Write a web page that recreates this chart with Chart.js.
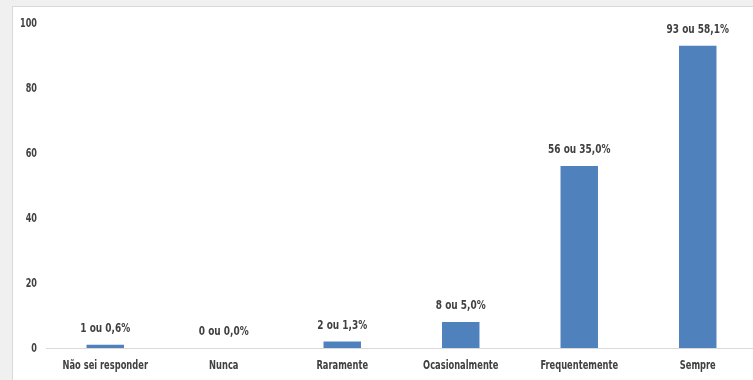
<!DOCTYPE html>
<html>
<head>
<meta charset="utf-8">
<script src="https://cdn.jsdelivr.net/npm/chart.js@4"></script>
<style>
  html, body { margin: 0; padding: 0; background: #f0f0f0; overflow: hidden; width: 753px; height: 380px; }
  #frame { position: absolute; left: 12px; top: 6px; width: 800px; height: 400px; background: #fff; border: 1px solid #d9d9d9; }
  #wrap { position: absolute; left: 0; top: 0; width: 750px; height: 373px; }
</style>
</head>
<body>
<div id="frame">
  <div id="wrap"><canvas id="chart"></canvas></div>
</div>
<script>
const categories = ['Não sei responder', 'Nunca', 'Raramente', 'Ocasionalmente', 'Frequentemente', 'Sempre'];
const counts = [1, 0, 2, 8, 56, 93];
const yTicks = [0, 20, 40, 60, 80, 100];

const FONT = "'Liberation Sans Narrow', 'DejaVu Sans Condensed', sans-serif";
const total = counts.reduce((a, b) => a + b, 0);

// narrow text: the original uses a condensed face, squeeze the one we have
function narrowText(ctx, text, x, y, sx) {
  ctx.save();
  ctx.translate(x, y);
  ctx.scale(sx, 1);
  ctx.fillText(text, 0, 0);
  ctx.restore();
}

const textLayer = {
  id: 'textLayer',
  afterDatasetsDraw(chart) {
    const ctx = chart.ctx;
    const area = chart.chartArea;
    const xs = chart.scales.x, ys = chart.scales.y;
    ctx.save();
    ctx.font = 'bold 12px ' + FONT;
    ctx.fillStyle = '#404040';

    // value labels above bars
    ctx.textAlign = 'center';
    ctx.textBaseline = 'bottom';
    chart.getDatasetMeta(0).data.forEach((bar, i) => {
      const pct = (counts[i] / total * 100).toFixed(1).replace('.', ',');
      narrowText(ctx, counts[i] + ' ou ' + pct + '%', bar.x, bar.y - 10, 0.83);
    });

    // category labels
    ctx.textBaseline = 'middle';
    categories.forEach((c, i) => {
      narrowText(ctx, c, xs.getPixelForValue(i), area.bottom + 18, 0.77);
    });

    // y tick labels
    ctx.textAlign = 'right';
    yTicks.forEach(v => {
      narrowText(ctx, String(v), area.left - 9, ys.getPixelForValue(v) + 1, 0.75);
    });
    ctx.restore();
  }
};

new Chart(document.getElementById('chart'), {
  type: 'bar',
  data: {
    labels: categories,
    datasets: [{
      data: counts,
      backgroundColor: '#4f81bd',
      borderWidth: 0,
      barPercentage: 0.316,
      categoryPercentage: 1
    }]
  },
  options: {
    responsive: true,
    maintainAspectRatio: false,
    animation: false,
    layout: { padding: { top: 16, right: 6, left: 0, bottom: 0 } },
    plugins: { legend: { display: false }, tooltip: { enabled: false } },
    scales: {
      x: {
        grid: { display: false },
        border: { display: true, color: '#d9d9d9', width: 1 },
        ticks: { display: false },
        afterFit(s) { s.height = 32; }
      },
      y: {
        min: 0, max: 100,
        afterBuildTicks(s) { s.ticks = yTicks.map(v => ({ value: v })); },
        grid: { display: false, drawTicks: false },
        border: { display: false },
        ticks: { display: false },
        afterFit(s) { s.width = 33; }
      }
    }
  },
  plugins: [textLayer]
});
</script>
</body>
</html>
